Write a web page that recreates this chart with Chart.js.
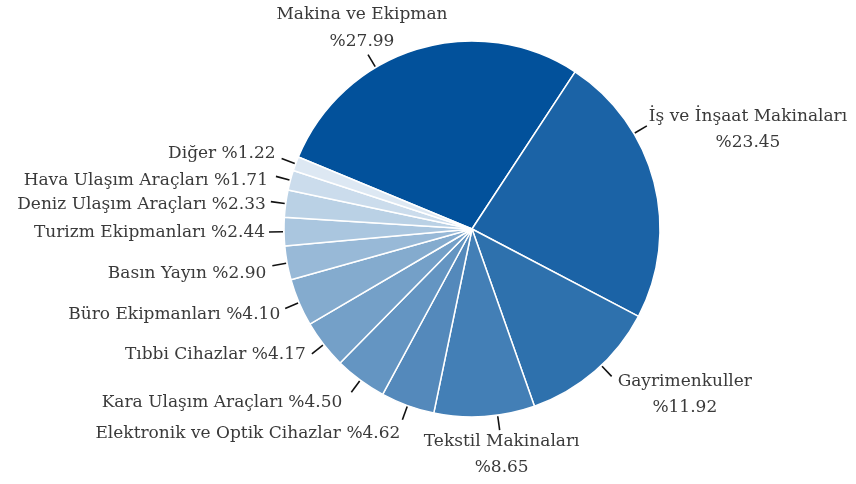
<!DOCTYPE html>
<html>
<head>
<meta charset="utf-8">
<script src="https://cdn.jsdelivr.net/npm/chart.js@4.4.1/dist/chart.umd.min.js"></script>
<style>
  html, body { margin: 0; padding: 0; background: #fff; }
  #chart { display: block; }
</style>
</head>
<body>
<canvas id="chart" width="856" height="484"></canvas>
<script>
// sector shares (%)
const categories = [
  'Makina ve Ekipman', 'İş ve İnşaat Makinaları', 'Gayrimenkuller', 'Tekstil Makinaları',
  'Elektronik ve Optik Cihazlar', 'Kara Ulaşım Araçları', 'Tıbbi Cihazlar', 'Büro Ekipmanları',
  'Basın Yayın', 'Turizm Ekipmanları', 'Deniz Ulaşım Araçları', 'Hava Ulaşım Araçları', 'Diğer'
];
const shares = [27.99, 23.45, 11.92, 8.65, 4.62, 4.50, 4.17, 4.10, 2.90, 2.44, 2.33, 1.71, 1.22];
const sliceColors = [
  '#02519b', '#1b63a6', '#2e71ad', '#437fb6', '#5489bb', '#6495c2', '#74a0c8',
  '#84abce', '#98b9d7', '#aac6df', '#bad1e5', '#cbdcec', '#dde8f3'
];

// where each label sits relative to the end of its tick
const labelLayout = [
  { mode: 'above', shift: -13.7, dx: -6, dy: -13 },
  { mode: 'right', shift: -16, dx: 2, dy: -9 },
  { mode: 'right', shift: -2.6, dx: 6, dy: 5 },
  { mode: 'below', shift: -4, dx: 2, dy: 11 },
  { mode: 'left', shift: 0, dx: -2, dy: 14 },
  { mode: 'left', shift: 0, dx: -9, dy: 10 },
  { mode: 'left', shift: 0, dx: -6, dy: 1 },
  { mode: 'left', shift: 0, dx: -5, dy: 6 },
  { mode: 'left', shift: 0, dx: -6, dy: 8 },
  { mode: 'left', shift: 0, dx: -4, dy: 1 },
  { mode: 'left', shift: 0, dx: -5, dy: 3 },
  { mode: 'left', shift: 0, dx: -8, dy: 4 },
  { mode: 'left', shift: 0, dx: -6, dy: -5 }
];

const fmt = v => '%' + v.toFixed(2);

const pieLabels = {
  id: 'pieLabels',
  afterDatasetsDraw(chart) {
    const ctx = chart.ctx;
    const arcs = chart.getDatasetMeta(0).data;
    ctx.save();
    ctx.font = '17px "DejaVu Serif"';
    ctx.fillStyle = '#3a3a3a';
    ctx.strokeStyle = '#111';
    ctx.lineWidth = 1.6;
    ctx.textBaseline = 'middle';
    arcs.forEach((arc, i) => {
      const lay = labelLayout[i];
      const a = (arc.startAngle + arc.endAngle) / 2 + lay.shift * Math.PI / 180;
      const r = arc.outerRadius;
      const x1 = arc.x + Math.cos(a) * (r + 1), y1 = arc.y + Math.sin(a) * (r + 1);
      const x2 = arc.x + Math.cos(a) * (r + 15), y2 = arc.y + Math.sin(a) * (r + 15);
      ctx.beginPath();
      ctx.moveTo(x1, y1);
      ctx.lineTo(x2, y2);
      ctx.stroke();

      const name = categories[i];
      const val = fmt(shares[i]);
      const tx = x2 + lay.dx, ty = y2 + lay.dy;
      if (lay.mode === 'left') {
        ctx.textAlign = 'right';
        ctx.fillText(name + ' ' + val, tx, ty);
      } else if (lay.mode === 'above') {
        ctx.textAlign = 'center';
        ctx.fillText(name, tx, ty - 27);
        ctx.fillText(val, tx, ty);
      } else if (lay.mode === 'below') {
        ctx.textAlign = 'center';
        ctx.fillText(name, tx, ty);
        ctx.fillText(val, tx, ty + 26);
      } else {
        const w = ctx.measureText(name).width;
        ctx.textAlign = 'center';
        ctx.fillText(name, tx + w / 2, ty);
        ctx.fillText(val, tx + w / 2, ty + 26);
      }
    });
    ctx.restore();
  }
};

new Chart(document.getElementById('chart').getContext('2d'), {
  type: 'pie',
  data: {
    labels: categories,
    datasets: [{
      data: shares,
      backgroundColor: sliceColors,
      borderColor: '#ffffff',
      borderWidth: 1.5,
      radius: 188,
      hoverOffset: 0,
      offset: 0
    }]
  },
  options: {
    responsive: false,
    animation: false,
    rotation: -67.5,
    layout: { padding: { left: 88, right: 0, top: 0, bottom: 26 } },
    plugins: {
      legend: { display: false },
      tooltip: { enabled: false }
    }
  },
  plugins: [pieLabels]
});
</script>
</body>
</html>
